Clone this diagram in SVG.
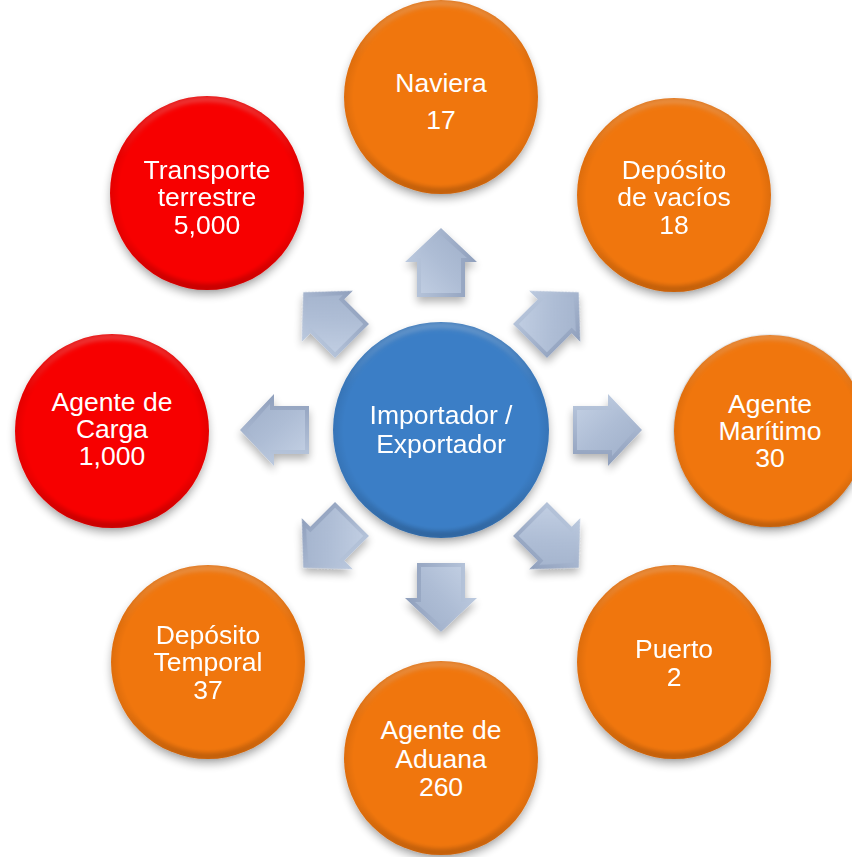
<svg xmlns="http://www.w3.org/2000/svg" width="852" height="857" viewBox="0 0 852 857">
<style>
.t{font-family:"Liberation Sans",Arial,sans-serif;font-size:26.5px;fill:#fff;text-anchor:middle}
.or{fill:#f07611}
.rd{fill:#f70202}
.bl{fill:#3b7ec6}
</style>
<defs>
<filter id="sh" x="-20%" y="-20%" width="140%" height="150%">
<feGaussianBlur in="SourceAlpha" stdDeviation="4"/>
<feOffset dx="0" dy="5" result="b"/>
<feComponentTransfer><feFuncA type="linear" slope="0.3"/></feComponentTransfer>
<feMerge><feMergeNode/><feMergeNode in="SourceGraphic"/></feMerge>
</filter>
<filter id="bl2"><feGaussianBlur stdDeviation="2"/></filter>
<linearGradient id="bev" x1="0" y1="0" x2="0" y2="1">
<stop offset="0" stop-color="#fff" stop-opacity="0.22"/>
<stop offset="0.3" stop-color="#fff" stop-opacity="0"/>
<stop offset="0.75" stop-color="#000" stop-opacity="0"/>
<stop offset="1" stop-color="#000" stop-opacity="0.16"/>
</linearGradient>
<radialGradient id="edge" cx="0.5" cy="0.5" r="0.5">
<stop offset="0.9" stop-color="#000" stop-opacity="0"/>
<stop offset="1" stop-color="#000" stop-opacity="0.08"/>
</radialGradient>
<linearGradient id="aOut" x1="0" y1="0" x2="0" y2="1">
<stop offset="0" stop-color="#bccadf"/>
<stop offset="1" stop-color="#8f9fbc"/>
</linearGradient>
<linearGradient id="aIn" x1="0" y1="0" x2="1" y2="1">
<stop offset="0" stop-color="#c2cfe3"/>
<stop offset="0.5" stop-color="#aebdd5"/>
<stop offset="1" stop-color="#a0b0ca"/>
</linearGradient>
<g id="arrow">
<polygon points="-34,-24 1,-24 1,-36 35,0 1,36 1,24 -34,24" fill="url(#aOut)"/>
<polygon points="-30,-20 5,-20 5,-26 28,0 5,26 5,20 -30,20" fill="url(#aIn)"/>
</g>
<g id="bevel">
<circle r="97" fill="url(#edge)"/>
<circle r="94" fill="none" stroke="url(#bev)" stroke-width="6" filter="url(#bl2)"/>
</g>
</defs>
<rect width="852" height="857" fill="#fff"/>

<g id="connectors" filter="url(#sh)">
<use href="#arrow" transform="translate(441,263) rotate(-90)"/>
<use href="#arrow" transform="translate(554,317) rotate(-45)"/>
<use href="#arrow" transform="translate(607,430)"/>
<use href="#arrow" transform="translate(554,543) rotate(45)"/>
<use href="#arrow" transform="translate(441,597) rotate(90)"/>
<use href="#arrow" transform="translate(328,543) rotate(135)"/>
<use href="#arrow" transform="translate(275,430) rotate(180)"/>
<use href="#arrow" transform="translate(328,317) rotate(-135)"/>
</g>

<g id="center">
<circle cx="441" cy="430" r="108" class="bl" filter="url(#sh)"/>
<g transform="translate(441,430) scale(1.113)"><use href="#bevel"/></g>
<text class="t" x="441" y="424">Importador /</text>
<text class="t" x="441" y="453">Exportador</text>
</g>

<g id="naviera">
<circle cx="441" cy="97" r="97" class="or" filter="url(#sh)"/>
<use href="#bevel" x="441" y="97"/>
<text class="t" x="441" y="92">Naviera</text>
<text class="t" x="441" y="129">17</text>
</g>

<g id="deposito-vacios">
<circle cx="674" cy="195" r="97" class="or" filter="url(#sh)"/>
<use href="#bevel" x="674" y="195"/>
<text class="t" x="674" y="179">Depósito</text>
<text class="t" x="674" y="206">de vacíos</text>
<text class="t" x="674" y="234">18</text>
</g>

<g id="agente-maritimo">
<circle cx="770" cy="431" r="96" class="or" filter="url(#sh)"/>
<use href="#bevel" x="770" y="431"/>
<text class="t" x="770" y="413">Agente</text>
<text class="t" x="770" y="440">Marítimo</text>
<text class="t" x="770" y="467">30</text>
</g>

<g id="puerto">
<circle cx="674" cy="662" r="97" class="or" filter="url(#sh)"/>
<use href="#bevel" x="674" y="662"/>
<text class="t" x="674" y="658">Puerto</text>
<text class="t" x="674" y="686">2</text>
</g>

<g id="agente-aduana">
<circle cx="441" cy="758" r="97" class="or" filter="url(#sh)"/>
<use href="#bevel" x="441" y="758"/>
<text class="t" x="441" y="739">Agente de</text>
<text class="t" x="441" y="768">Aduana</text>
<text class="t" x="441" y="796">260</text>
</g>

<g id="deposito-temporal">
<circle cx="208" cy="662" r="97" class="or" filter="url(#sh)"/>
<use href="#bevel" x="208" y="662"/>
<text class="t" x="208" y="644">Depósito</text>
<text class="t" x="208" y="671">Temporal</text>
<text class="t" x="208" y="699">37</text>
</g>

<g id="agente-carga">
<circle cx="112" cy="431" r="97" class="rd" filter="url(#sh)"/>
<use href="#bevel" x="112" y="431"/>
<text class="t" x="112" y="411">Agente de</text>
<text class="t" x="112" y="438">Carga</text>
<text class="t" x="112" y="465">1,000</text>
</g>

<g id="transporte">
<circle cx="207" cy="193" r="97" class="rd" filter="url(#sh)"/>
<use href="#bevel" x="207" y="193"/>
<text class="t" x="207" y="179">Transporte</text>
<text class="t" x="207" y="206">terrestre</text>
<text class="t" x="207" y="234">5,000</text>
</g>
</svg>
